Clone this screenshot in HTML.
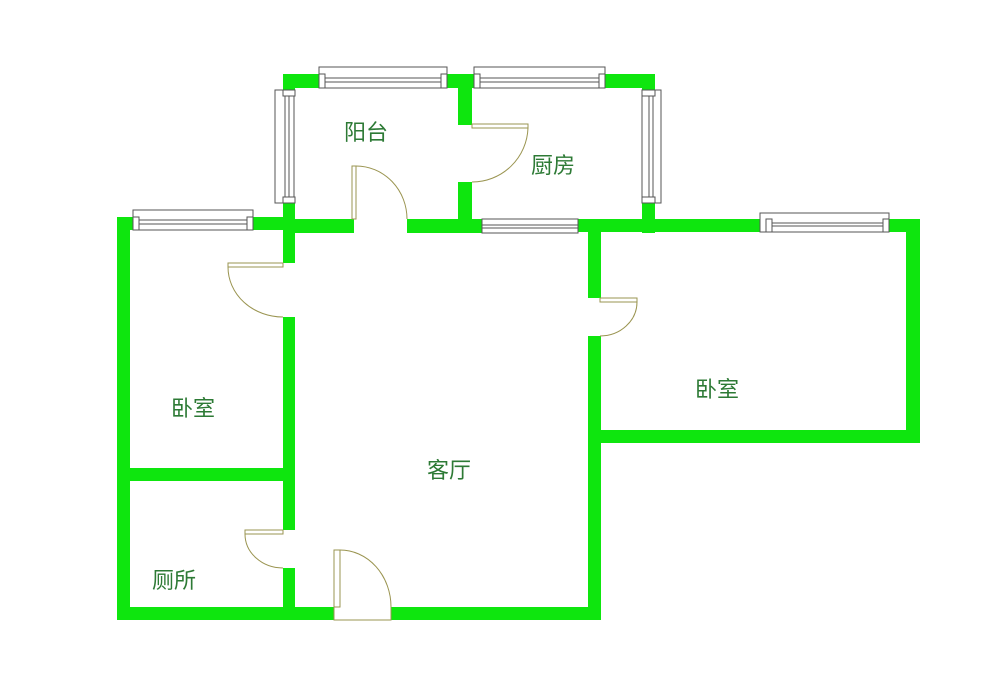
<!DOCTYPE html>
<html><head><meta charset="utf-8"><style>
html,body{margin:0;padding:0;background:#fff;}
svg{display:block;}
text{font-family:"Liberation Sans","Noto Sans CJK SC",sans-serif;font-size:22px;fill:#2d7a35;}
</style></head><body>
<svg width="1000" height="677" viewBox="0 0 1000 677" xmlns="http://www.w3.org/2000/svg">
<rect width="1000" height="677" fill="#fff"/>
<g fill="#0ee60e">
<rect x="117" y="217" width="13" height="403"/>
<rect x="117" y="607" width="217" height="13"/>
<rect x="391" y="607" width="210" height="13"/>
<rect x="117" y="217" width="178" height="13"/>
<rect x="283" y="203" width="12" height="60"/>
<rect x="283" y="317" width="12" height="213"/>
<rect x="283" y="568" width="12" height="39"/>
<rect x="130" y="468" width="153" height="13"/>
<rect x="283" y="74" width="36" height="14"/>
<rect x="447" y="74" width="27" height="14"/>
<rect x="605" y="74" width="50" height="14"/>
<rect x="283" y="74" width="12" height="16"/>
<rect x="283" y="203" width="12" height="30"/>
<rect x="642" y="74" width="13" height="16"/>
<rect x="642" y="203" width="13" height="30"/>
<rect x="458" y="88" width="14" height="37"/>
<rect x="458" y="182" width="14" height="51"/>
<rect x="283" y="219" width="71" height="14"/>
<rect x="407" y="219" width="75" height="14"/>
<rect x="578" y="219" width="342" height="13"/>
<rect x="588" y="219" width="13" height="79"/>
<rect x="588" y="336" width="13" height="284"/>
<rect x="906" y="219" width="14" height="224"/>
<rect x="601" y="430" width="319" height="13"/>
</g>
<g fill="#fff" stroke="#555" stroke-width="1">
<rect x="133" y="210" width="120" height="20"/>
<line x1="139" y1="220" x2="247" y2="220"/><line x1="139" y1="224" x2="247" y2="224"/>
<rect x="133" y="217" width="6" height="13"/><rect x="247" y="217" width="6" height="13"/>
<rect x="319" y="67" width="128" height="21"/>
<line x1="325" y1="78" x2="441" y2="78"/><line x1="325" y1="82" x2="441" y2="82"/>
<rect x="319" y="74" width="6" height="14"/><rect x="441" y="74" width="6" height="14"/>
<rect x="474" y="67" width="131" height="21"/>
<line x1="480" y1="78" x2="599" y2="78"/><line x1="480" y1="82" x2="599" y2="82"/>
<rect x="474" y="74" width="6" height="14"/><rect x="599" y="74" width="6" height="14"/>
<rect x="275" y="90" width="19" height="113"/>
<line x1="285" y1="96" x2="285" y2="197"/><line x1="289" y1="96" x2="289" y2="197"/>
<rect x="283" y="90" width="12" height="6"/><rect x="283" y="197" width="12" height="6"/>
<rect x="642" y="90" width="19" height="113"/>
<line x1="649" y1="96" x2="649" y2="197"/><line x1="653" y1="96" x2="653" y2="197"/>
<rect x="642" y="90" width="13" height="6"/><rect x="642" y="197" width="13" height="6"/>
<rect x="482" y="219" width="96" height="14"/>
<line x1="482" y1="225" x2="578" y2="225"/><line x1="482" y1="228" x2="578" y2="228"/>
<rect x="760" y="213" width="129" height="19"/>
<line x1="772" y1="223" x2="883" y2="223"/><line x1="772" y1="226" x2="883" y2="226"/>
<rect x="766" y="219" width="6" height="13"/><rect x="883" y="219" width="6" height="13"/>
</g>
<g fill="none" stroke="#9a9450" stroke-width="1">
<rect x="472" y="124" width="56" height="4"/>
<path d="M528 128 A56 56 0 0 1 472 182"/>
<rect x="352" y="166" width="4" height="53"/>
<path d="M356 166 A51 53 0 0 1 407 219"/>
<rect x="228" y="263" width="55" height="4"/>
<path d="M228 267 A55 50 0 0 0 283 317"/>
<rect x="600" y="298" width="37" height="4"/>
<path d="M637 302 A37 34 0 0 1 600 336"/>
<rect x="245" y="530" width="38" height="4"/>
<path d="M245 534 A38 34 0 0 0 283 568"/>
<rect x="334" y="550" width="6" height="57"/>
<path d="M340 550 A51 57 0 0 1 391 607"/>
<path d="M334 607 V620 H391 V607"/>
</g>
<text x="344" y="140">阳台</text>
<text x="531" y="173">厨房</text>
<text x="171" y="416">卧室</text>
<text x="427" y="478">客厅</text>
<text x="695" y="397">卧室</text>
<text x="152" y="588">厕所</text>
</svg>
</body></html>
